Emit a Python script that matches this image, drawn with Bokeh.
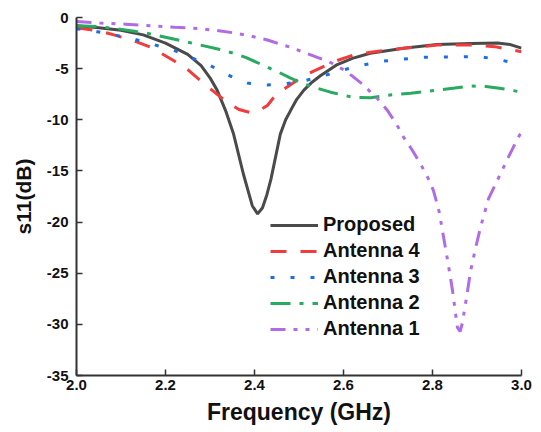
from bokeh.plotting import figure
from bokeh.models import Range1d, FixedTicker, Legend, LegendItem
from bokeh.embed import file_html
from bokeh.resources import INLINE

# ---- data ----
prop_f = [2.00, 2.05, 2.10, 2.15, 2.20, 2.25, 2.28, 2.30, 2.316, 2.335, 2.353, 2.375, 2.395, 2.407,
          2.418, 2.428, 2.437, 2.448, 2.458, 2.47, 2.481, 2.495, 2.511, 2.53, 2.548, 2.586, 2.62,
          2.66, 2.735, 2.81, 2.886, 2.946, 2.975, 3.00]
prop_s = [-0.8, -1.0, -1.25, -1.7, -2.5, -3.6, -4.7, -5.9, -7.1, -9.1, -11.4, -15.3, -18.4, -19.2,
          -18.6, -17.3, -15.8, -13.5, -11.4, -10.0, -9.1, -8.0, -7.1, -6.3, -5.7, -4.6, -4.0,
          -3.5, -3.0, -2.65, -2.55, -2.5, -2.65, -3.0]

a4_f = [2.00, 2.054, 2.092, 2.13, 2.166, 2.218, 2.25, 2.279, 2.31, 2.339, 2.365, 2.391, 2.41, 2.429,
        2.447, 2.48, 2.511, 2.55, 2.586, 2.62, 2.661, 2.735, 2.811, 2.886, 2.94, 2.982, 3.00]
a4_s = [-1.0, -1.35, -1.8, -2.3, -2.9, -4.2, -5.1, -6.2, -7.3, -8.3, -9.0, -9.3, -9.1, -8.6,
        -7.6, -6.6, -5.7, -4.9, -4.2, -3.7, -3.4, -3.0, -2.7, -2.7, -2.85, -3.2, -3.35]

a3_f = [2.00, 2.047, 2.09, 2.128, 2.17, 2.218, 2.256, 2.301, 2.339, 2.384, 2.41, 2.429, 2.465, 2.511,
        2.555, 2.593, 2.638, 2.683, 2.728, 2.773, 2.818, 2.863, 2.903, 2.946, 2.975, 3.00]
a3_s = [-1.1, -1.4, -1.75, -2.1, -2.6, -3.2, -3.9, -4.7, -5.6, -6.4, -6.6, -6.6, -6.5, -6.2,
        -5.7, -5.2, -4.7, -4.3, -4.1, -3.9, -3.85, -3.85, -3.8, -4.1, -4.35, -4.6]

a2_f = [2.00, 2.05, 2.092, 2.13, 2.166, 2.218, 2.279, 2.32, 2.353, 2.38, 2.406, 2.436, 2.452, 2.48,
        2.511, 2.54, 2.571, 2.60, 2.622, 2.661, 2.699, 2.751, 2.811, 2.85, 2.886, 2.92, 2.946, 2.97, 3.00]
a2_s = [-0.8, -0.9, -1.1, -1.35, -1.6, -2.1, -2.7, -3.1, -3.5, -3.9, -4.4, -5.0, -5.3, -5.9,
        -6.5, -6.9, -7.3, -7.6, -7.8, -7.85, -7.6, -7.4, -7.1, -6.9, -6.7, -6.75, -6.9, -7.05, -7.3]

a1_f = [2.00, 2.054, 2.11, 2.166, 2.22, 2.279, 2.32, 2.353, 2.39, 2.429, 2.443, 2.48, 2.511, 2.541,
        2.571, 2.60, 2.622, 2.645, 2.661, 2.68, 2.699, 2.72, 2.735, 2.755, 2.773, 2.79, 2.802, 2.815,
        2.825, 2.835, 2.845, 2.856, 2.862, 2.867, 2.876, 2.886, 2.897, 2.908, 2.926, 2.946, 2.97,
        2.993, 3.00]
a1_s = [-0.4, -0.55, -0.65, -0.8, -0.95, -1.1, -1.3, -1.5, -1.8, -2.2, -2.4, -2.9, -3.4, -3.9,
        -4.4, -5.1, -5.8, -6.6, -7.3, -8.1, -9.1, -10.5, -11.7, -13.0, -14.3, -15.7, -16.9, -19.0,
        -21.5, -24.0, -26.7, -30.3, -30.7, -29.9, -27.5, -24.7, -22.5, -20.5, -17.7, -15.9, -13.7,
        -11.7, -11.2]

x_ticks = [2.0, 2.2, 2.4, 2.6, 2.8, 3.0]
y_ticks = [-35, -30, -25, -20, -15, -10, -5, 0]

series = [
    ("Proposed", prop_f, prop_s, "#4a4a4a", "solid"),
    ("Antenna 4", a4_f, a4_s, "#f23b3b", "16 14"),
    ("Antenna 3", a3_f, a3_s, "#1a6ee6", "4 16"),
    ("Antenna 2", a2_f, a2_s, "#28aa60", "20 9 4 9"),
    ("Antenna 1", a1_f, a1_s, "#b06ce6", "15 8 4 8 4 8"),
]

W, H = 541, 432
p = figure(width=W, height=H, output_backend="svg", toolbar_location=None,
           x_range=Range1d(2.0, 3.0), y_range=Range1d(-35, 0),
           min_border_left=76, min_border_right=20, min_border_top=17, min_border_bottom=57)
p.outline_line_color = None
p.xgrid.visible = False
p.ygrid.visible = False

items = []
for name, f, s, col, dash in series:
    r = p.line(f, s, line_color=col, line_width=3, line_dash=dash, line_cap="butt")
    items.append(LegendItem(label=name, renderers=[r]))

font = "Liberation Sans"
for ax in (p.xaxis[0], p.yaxis[0]):
    ax.axis_line_color = "#333333"
    ax.axis_line_width = 2
    ax.major_tick_line_color = "#333333"
    ax.major_tick_line_width = 1.5
    ax.major_tick_in = 6
    ax.major_tick_out = 0
    ax.minor_tick_line_color = None
    ax.major_label_text_font = font
    ax.major_label_text_font_style = "bold"
    ax.major_label_text_font_size = "15px"
    ax.major_label_text_color = "#111111"
    ax.axis_label_text_font = font
    ax.axis_label_text_font_style = "bold"
    ax.axis_label_text_color = "#111111"

p.xaxis.ticker = FixedTicker(ticks=x_ticks)
p.xaxis.major_label_overrides = {t: f"{t:.1f}" for t in x_ticks}
p.yaxis.ticker = FixedTicker(ticks=y_ticks)
p.yaxis.major_label_overrides = {t: f"{t:d}" for t in y_ticks}
p.xaxis.axis_label = "Frequency (GHz)"
p.xaxis.axis_label_text_font_size = "23px"
p.xaxis.major_label_standoff = 4
p.xaxis.axis_label_standoff = 6
p.yaxis.axis_label = "s11(dB)"
p.yaxis.axis_label_text_font_size = "21px"
p.yaxis.major_label_standoff = 8
p.yaxis.axis_label_standoff = 9

legend = Legend(items=items, location=(194, 35), padding=0, margin=0, spacing=3,
                glyph_width=48, glyph_height=22, label_height=22, label_standoff=5,
                label_text_font=font, label_text_font_style="bold", label_text_font_size="20px",
                label_text_color="#111111",
                border_line_color=None, background_fill_alpha=0)
p.add_layout(legend, "center")

open("out.html", "w").write(file_html(p, INLINE))
